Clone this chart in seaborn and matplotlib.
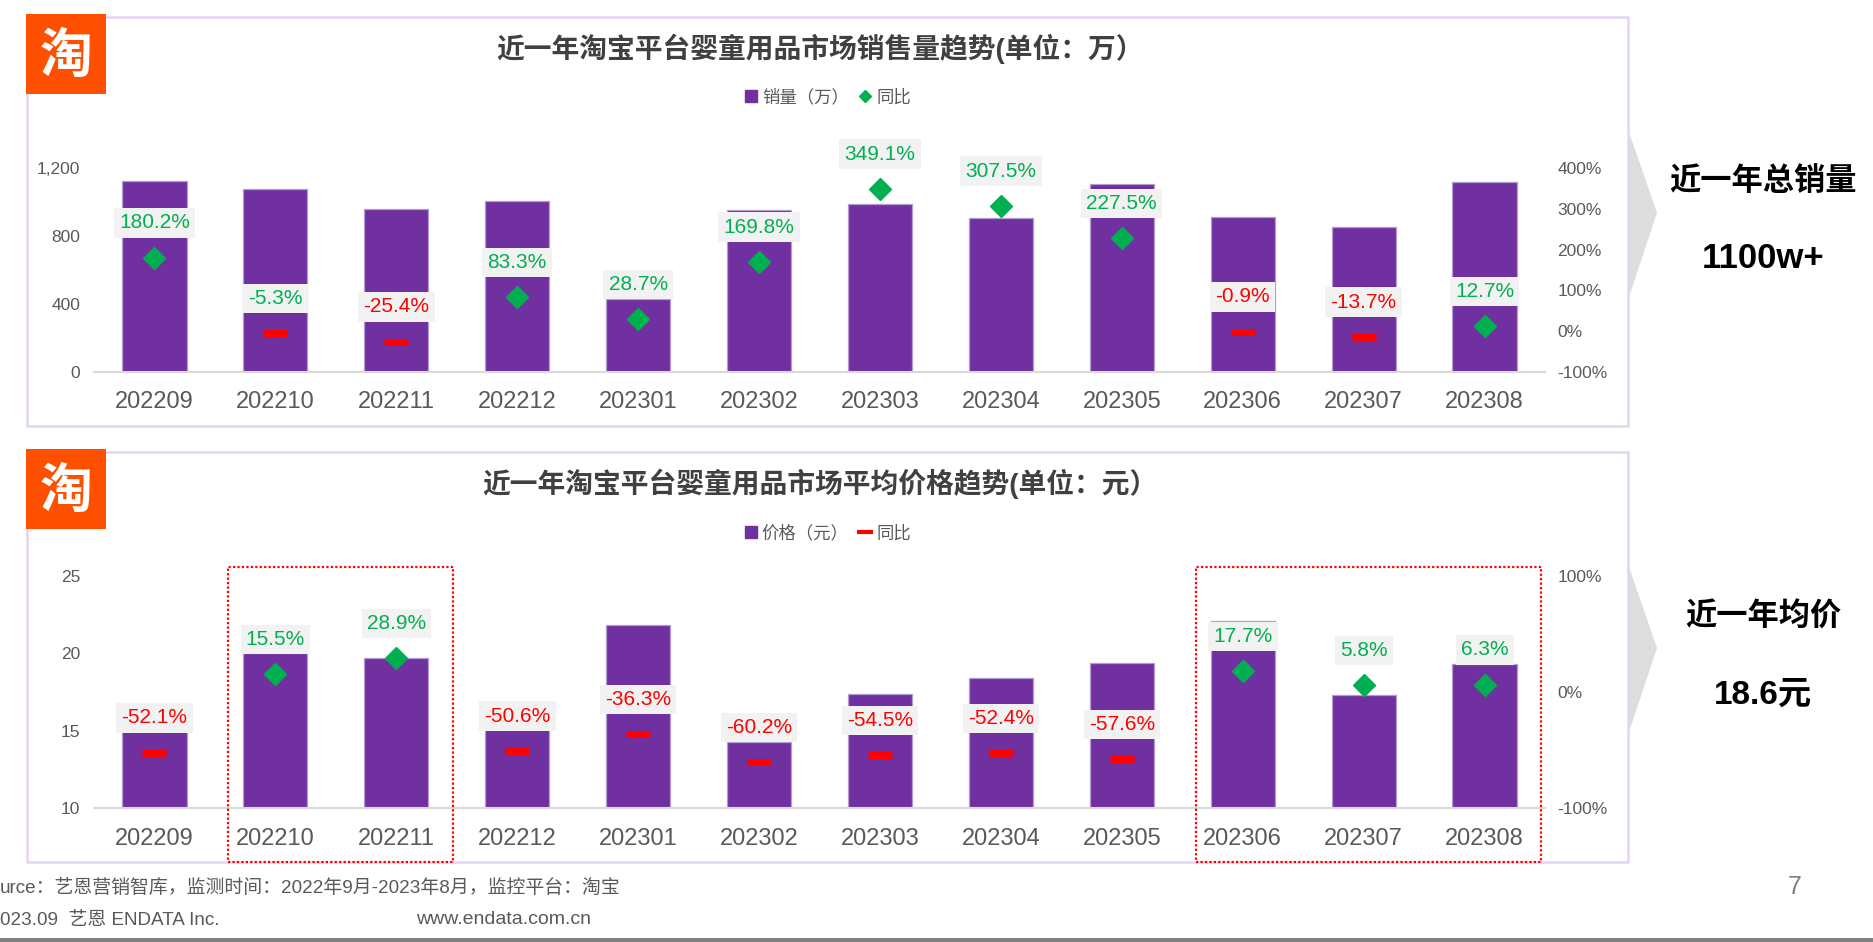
import matplotlib
matplotlib.use("Agg")
import matplotlib.pyplot as plt
import matplotlib.transforms as mtransforms
from matplotlib.patches import Rectangle, Polygon
from matplotlib.lines import Line2D
import seaborn as sns
import pandas as pd

# ---------------- data ----------------
months = ["202209", "202210", "202211", "202212", "202301", "202302",
          "202303", "202304", "202305", "202306", "202307", "202308"]
sales_wan = [1125, 1075, 959, 1007, 430, 953, 986, 907, 1106, 912, 855, 1118]
sales_yoy = [180.2, -5.3, -25.4, 83.3, 28.7, 169.8, 349.1, 307.5, 227.5, -0.9, -13.7, 12.7]
price_yuan = [15.0, 20.0, 19.7, 15.1, 21.8, 14.3, 17.4, 18.4, 19.4, 22.1, 17.3, 19.3]
price_yoy = [-52.1, 15.5, 28.9, -50.6, -36.3, -60.2, -54.5, -52.4, -57.6, 17.7, 5.8, 6.3]

sales_yticks = [0, 400, 800, 1200]
sales_y2ticks = [-100, 0, 100, 200, 300, 400]
price_yticks = [10, 15, 20, 25]
price_y2ticks = [-100, 0, 100]

title_sales = "近一年淘宝平台婴童用品市场销售量趋势(单位：万）"
title_price = "近一年淘宝平台婴童用品市场平均价格趋势(单位：元）"
legend_sales = ["销量（万）", "同比"]
legend_price = ["价格（元）", "同比"]
highlight_groups = [("202210", "202211"), ("202306", "202308")]
green_label_override = {"202210"}  # label shown green in the source despite negative value

# ---------------- style ----------------
sns.set_style("white")
plt.rcParams["font.family"] = ["Liberation Sans", "Noto Sans CJK SC", "DejaVu Sans"]

PURPLE = "#7030A0"
GREEN = "#00B050"
RED = "#FF0000"
GRAY_TXT = "#595959"
W, H = 1874, 942
AX_L, AX_R = 94, 1545

fig = plt.figure(figsize=(W / 100, H / 100), dpi=100)
fig.patch.set_facecolor("white")


def fxy(px, py):
    return px / W, 1 - py / H


def frame(x0, y0, x1, y1, **kw):
    fig.patches.append(Rectangle(fxy(x0, y1), (x1 - x0) / W, (y1 - y0) / H,
                                 transform=fig.transFigure, **kw))


def draw_panel(ax, values, yoy, ylim, yticks, yfmt, y2lim, y2ticks):
    df = pd.DataFrame({"month": months, "value": values})
    sns.barplot(data=df, x="month", y="value", color=PURPLE, saturation=1,
                width=0.53, edgecolor="#B39AD3", linewidth=0.9, ax=ax, zorder=2)
    ax.set_xlim(-0.5, len(months) - 0.5)
    ax.set_ylim(*ylim)
    ax.set_yticks(yticks)
    ax.set_yticklabels([yfmt(v) for v in yticks])
    ax.set_xlabel("")
    ax.set_ylabel("")
    for s in ["top", "right", "left"]:
        ax.spines[s].set_visible(False)
    ax.spines["bottom"].set_color("#D9D9D9")
    ax.spines["bottom"].set_linewidth(1.5)
    ax.tick_params(axis="x", length=0, pad=14, labelsize=17, labelcolor=GRAY_TXT)
    ax.tick_params(axis="y", length=0, pad=10, labelsize=12.5, labelcolor=GRAY_TXT)
    ax.grid(False)

    ax2 = ax.twinx()
    ax2.set_ylim(*y2lim)
    ax2.set_yticks(y2ticks)
    ax2.set_yticklabels([f"{v:.0f}%" for v in y2ticks])
    for s in ax2.spines.values():
        s.set_visible(False)
    ax2.tick_params(axis="y", length=0, pad=9, labelsize=12.5, labelcolor=GRAY_TXT)
    ax2.grid(False)

    for i, v in enumerate(yoy):
        if v >= 0:
            ax2.plot(i, v, marker="D", ms=11.5, color=GREEN, ls="none", zorder=3)
        else:
            ax2.plot(i, v, marker="_", ms=17, mew=5, color=RED, ls="none", zorder=3)
        col = GREEN if (v >= 0 or months[i] in green_label_override) else RED
        ax2.annotate(f"{v:.1f}%", xy=(i, v), xytext=(0, 25), textcoords="offset points",
                     ha="center", va="center", fontsize=15, color=col, zorder=4,
                     bbox=dict(boxstyle="square,pad=0.25", fc="#F2F2F2", ec="none"))
    return ax2


# ---------------- panels / frames ----------------
BORDER = "#E3D3F5"
frame(27, 17, 1628, 426, fill=False, ec=BORDER, lw=1.8, zorder=0)
frame(27, 452, 1628, 862, fill=False, ec=BORDER, lw=1.8, zorder=0)

# chevrons
for (ya, ytip, yb) in [(132, 213, 297), (567, 648, 732)]:
    fig.patches.append(Polygon([fxy(1629, ya), fxy(1657, ytip), fxy(1629, yb)],
                               closed=True, transform=fig.transFigure,
                               fc="#DDDDDD", ec="none", zorder=1))

# logos
for (yl0, yl1) in [(14, 94), (449, 529)]:
    frame(26, yl0, 106, yl1, fc="#FF5000", ec="none", zorder=5)
    cx, cy = fxy(66, (yl0 + yl1) / 2 + 2)
    fig.text(cx, cy, "淘", ha="center", va="center", color="white",
             fontsize=38, fontweight="bold", family=["Noto Sans CJK SC"], zorder=6)

# ---------------- top chart ----------------
ax_top = fig.add_axes([AX_L / W, 1 - 372 / H, (AX_R - AX_L) / W, 204 / H])
draw_panel(ax_top, sales_wan, sales_yoy, (0, 1200), sales_yticks,
           lambda v: f"{v:,.0f}", (-100, 400), sales_y2ticks)

fig.text(*fxy(820, 49), title_sales, ha="center", va="center", fontsize=20,
         fontweight="bold", color="#404040")
h_top = [Line2D([], [], marker="s", ms=8, color=PURPLE, ls="none"),
         Line2D([], [], marker="D", ms=6, color=GREEN, ls="none")]
fig.legend(h_top, legend_sales, loc="center", bbox_to_anchor=fxy(827, 97), ncol=2,
           frameon=False, fontsize=12.5, handletextpad=0.2, columnspacing=0.5,
           handlelength=0.9, labelcolor=GRAY_TXT)

# ---------------- bottom chart ----------------
ax_bot = fig.add_axes([AX_L / W, 1 - 808.3 / H, (AX_R - AX_L) / W, 232.6 / H])
draw_panel(ax_bot, price_yuan, price_yoy, (10, 25), price_yticks,
           lambda v: f"{v:.0f}", (-100, 100), price_y2ticks)

fig.text(*fxy(820, 484), title_price, ha="center", va="center", fontsize=20,
         fontweight="bold", color="#404040")
h_bot = [Line2D([], [], marker="s", ms=8, color=PURPLE, ls="none"),
         Line2D([], [], marker="_", ms=12, mew=3, color=RED, ls="none")]
fig.legend(h_bot, legend_price, loc="center", bbox_to_anchor=fxy(827, 533), ncol=2,
           frameon=False, fontsize=12.5, handletextpad=0.2, columnspacing=0.5,
           handlelength=0.9, labelcolor=GRAY_TXT)

# highlight boxes (x from category positions, y in figure space)
blend = mtransforms.blended_transform_factory(ax_bot.transData, fig.transFigure)
y_lo, y_hi = 1 - 862 / H, 1 - 566.7 / H
for first, last in highlight_groups:
    i0, i1 = months.index(first), months.index(last)
    x0, x1 = i0 - 0.39, i1 + 0.47
    r = Rectangle((x0, y_lo), x1 - x0, y_hi - y_lo, transform=blend, fill=False,
                  ec=RED, lw=1.6, ls=(0, (1, 1)), clip_on=False, zorder=10)
    fig.patches.append(r)

# ---------------- right-side summary ----------------
fig.text(*fxy(1763, 182), "近一年总销量", ha="center", va="center", fontsize=22.5,
         fontweight="bold", color="black")
fig.text(*fxy(1763, 259), "1100w+", ha="center", va="center", fontsize=25,
         fontweight="bold", color="black")
fig.text(*fxy(1763, 618), "近一年均价", ha="center", va="center", fontsize=22.5,
         fontweight="bold", color="black")
fig.text(*fxy(1763, 695), "18.6元", ha="center", va="center", fontsize=24,
         fontweight="bold", color="black")

# ---------------- footer ----------------
fig.text(*fxy(0, 888), "urce：艺恩营销智库，监测时间：2022年9月-2023年8月，监控平台：淘宝",
         ha="left", va="center", fontsize=13.6, color=GRAY_TXT)
fig.text(*fxy(0, 920), "023.09  艺恩 ENDATA Inc.", ha="left", va="center",
         fontsize=13.6, color=GRAY_TXT)
fig.text(*fxy(416, 920), "www.endata.com.cn", ha="left", va="center",
         fontsize=14, color=GRAY_TXT)
fig.text(*fxy(1795, 887), "7", ha="center", va="center", fontsize=18, color="#808080")
frame(0, 938, W, 942, fc="#7F7F7F", ec="none", zorder=0)

fig.savefig("out.png", dpi=100, facecolor="white")
